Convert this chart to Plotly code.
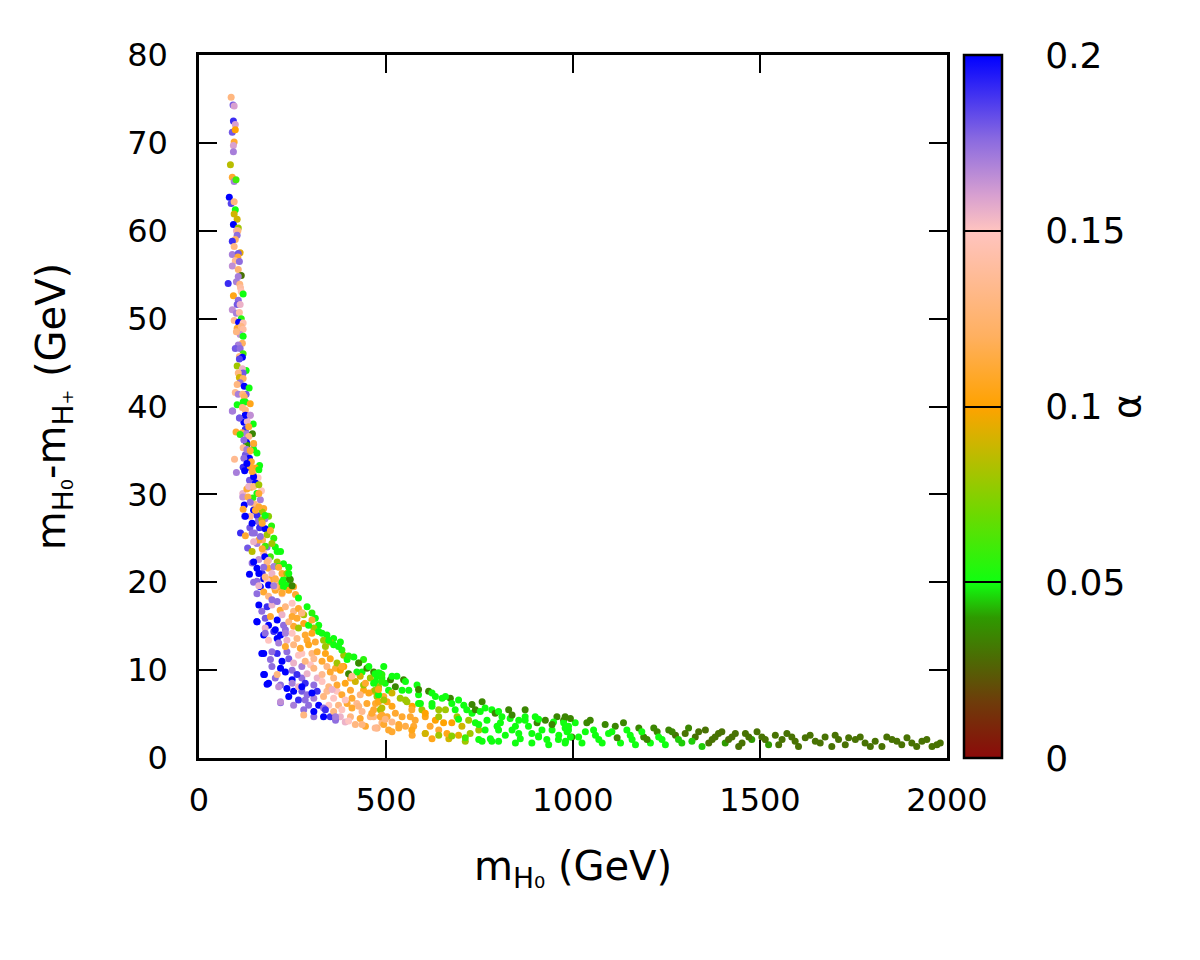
import plotly.graph_objects as go

# scan points: m_H0 (GeV), m_H0 - m_H+ (GeV), alpha
# steep part at low mass
spike_m = [86, 91, 94, 92, 97, 89, 97, 94, 92, 92, 84, 89, 94, 99, 81, 86, 94, 97, 94, 102,
           92, 105, 100, 104, 102, 97, 89, 94, 110, 89, 105, 104, 97, 108, 89, 105, 113, 105, 78, 100,
           109, 111, 113, 118, 92, 105, 102, 110, 89, 100, 108, 113, 94, 106, 118, 102, 113, 118, 110, 100,
           118, 116, 105, 97, 110, 118, 108, 116, 108, 102, 126, 116, 118, 105, 108, 118, 110, 102, 121, 134,
           126, 97, 105, 117, 121, 118, 124, 137, 102, 116, 89, 124, 124, 137, 108]
spike_dm = [75.2, 74.3, 74.2, 72.5, 72.1, 71.2, 71.5, 70.1, 69.7, 69.0, 67.5, 66.1, 65.6, 65.8, 63.8, 63.1, 63.3, 62.4, 61.9, 61.3,
            60.7, 60.3, 60.0, 60.0, 59.5, 59.0, 58.8, 58.2, 57.5, 57.3, 57.4, 57.0, 56.6, 56.5, 56.0, 55.6, 54.9, 54.8, 54.0, 54.2,
            53.9, 53.5, 53.1, 52.8, 52.6, 52.1, 51.6, 51.6, 51.0, 50.6, 50.7, 50.0, 49.8, 49.6, 49.5, 48.9, 49.1, 48.8, 48.2, 48.5,
            48.0, 47.2, 47.0, 46.6, 46.6, 46.0, 45.7, 45.6, 45.4, 44.6, 44.1, 44.3, 43.8, 43.8, 43.3, 43.2, 42.7, 42.5, 42.3, 42.1,
            41.4, 41.6, 41.4, 41.4, 41.1, 40.5, 40.5, 40.3, 40.2, 39.9, 39.5, 39.6, 39.0, 39.0, 38.7]
spike_a = [0.13, 0.18, 0.16, 0.19, 0.16, 0.18, 0.10, 0.11, 0.16, 0.17, 0.085, 0.11, 0.17, 0.06, 0.2, 0.185, 0.13, 0.05, 0.09, 0.09,
           0.2, 0.08, 0.155, 0.13, 0.175, 0.12, 0.19, 0.13, 0.095, 0.17, 0.18, 0.11, 0.135, 0.175, 0.165, 0.125, 0.03, 0.17, 0.19, 0.17,
           0.13, 0.14, 0.145, 0.05, 0.105, 0.175, 0.18, 0.155, 0.165, 0.17, 0.14, 0.055, 0.135, 0.2, 0.145, 0.11, 0.13, 0.14, 0.165, 0.13,
           0.05, 0.12, 0.17, 0.18, 0.175, 0.06, 0.13, 0.2, 0.185, 0.08, 0.05, 0.155, 0.18, 0.13, 0.09, 0.12, 0.175, 0.13, 0.2, 0.05,
           0.18, 0.135, 0.17, 0.13, 0.12, 0.05, 0.05, 0.105, 0.05, 0.13, 0.17, 0.13, 0.2, 0.165, 0.18]

# bend of the curve, 40 down to 20 GeV
knee_m = [90, 109, 124, 137, 120, 145, 129, 124, 99, 115, 127, 143, 110, 133, 127, 128, 146, 118, 146, 155,
          135, 124, 135, 120, 95, 140, 162, 118, 133, 151, 100, 122, 146, 158, 135, 151, 140, 167, 155, 117,
          128, 117, 144, 131, 164, 148, 121, 173, 118, 146, 169, 155, 122, 186, 137, 176, 158, 194, 136, 162,
          177, 111, 124, 148, 182, 200, 170, 155, 130, 204, 182, 218, 142, 173, 191, 160, 176, 209, 226, 155,
          186, 200, 135, 169, 195, 222, 235, 242, 146, 182, 204, 160, 186, 213, 226, 249,
          204, 222, 195, 160, 142, 186, 213, 240, 160, 177, 142, 124, 151, 168, 133, 160, 146, 137, 160, 128, 146,
          133, 120, 137, 128, 142, 146, 160, 137, 160, 177, 142, 169, 191, 164, 146, 195, 169, 209, 182, 213,
          173, 240, 146, 177, 222, 200]
knee_dm = [39.5, 38.7, 39.0, 39.0, 38.2, 38.0, 38.3, 37.4, 37.1, 37.0, 36.9, 36.9, 36.8, 36.6, 35.9, 35.6, 35.7, 35.3, 35.1, 34.7,
           34.9, 34.5, 34.1, 34.1, 34.0, 33.7, 33.3, 33.1, 33.1, 33.0, 32.5, 32.7, 32.2, 31.9, 31.6, 31.3, 30.8, 30.4, 30.1, 30.1,
           30.6, 29.7, 29.6, 29.7, 29.4, 28.9, 28.8, 28.4, 28.3, 28.2, 28.0, 27.6, 27.5, 27.5, 27.5, 27.2, 26.9, 26.4, 26.2, 26.2,
           26.1, 25.6, 25.3, 25.6, 25.4, 25.0, 24.8, 24.4, 23.9, 24.0, 24.0, 23.5, 23.5, 23.3, 22.9, 22.6, 22.9, 22.3, 22.1, 21.6,
           21.6, 21.8, 20.9, 21.0, 21.0, 21.0, 21.0, 20.4, 20.0, 20.2, 20.4, 19.6, 19.7, 19.5, 19.5, 19.6,
           19.5, 18.8, 18.0, 21.0, 22.2, 22.5, 21.8, 21.0, 24.8, 24.1, 25.6, 27.5, 28.2, 27.1, 30.9, 30.1, 32.0, 33.2, 32.8, 35.1, 35.8,
           37.7, 36.2, 35.0, 33.5, 32.6, 30.9, 31.1, 29.1, 28.6, 27.6, 26.7, 26.7, 25.9, 25.2, 24.6, 24.4, 23.8, 23.5, 22.3, 21.7,
           21.7, 21.7, 22.3, 20.6, 20.0, 19.6]
knee_a = [0.17, 0.175, 0.2, 0.16, 0.2, 0.05, 0.155, 0.19, 0.11, 0.115, 0.17, 0.035, 0.055, 0.13, 0.2, 0.04, 0.175, 0.135, 0.05, 0.05,
          0.11, 0.18, 0.2, 0.175, 0.135, 0.11, 0.05, 0.19, 0.2, 0.105, 0.17, 0.2, 0.13, 0.15, 0.18, 0.2, 0.11, 0.15, 0.05, 0.155,
          0.11, 0.165, 0.055, 0.115, 0.17, 0.13, 0.2, 0.11, 0.11, 0.2, 0.08, 0.19, 0.18, 0.075, 0.135, 0.17, 0.175, 0.055, 0.18, 0.19,
          0.2, 0.19, 0.11, 0.175, 0.08, 0.055, 0.12, 0.17, 0.18, 0.05, 0.175, 0.05, 0.085, 0.14, 0.06, 0.165, 0.2, 0.08, 0.05, 0.2,
          0.11, 0.17, 0.2, 0.19, 0.155, 0.11, 0.08, 0.04, 0.175, 0.15, 0.115, 0.155, 0.2, 0.11, 0.05, 0.035,
          0.13, 0.11, 0.175, 0.2, 0.175, 0.155, 0.05, 0.05, 0.11, 0.06, 0.175, 0.2, 0.11, 0.08, 0.155, 0.11, 0.2, 0.11, 0.05, 0.17, 0.11,
          0.11, 0.175, 0.11, 0.2, 0.11, 0.13, 0.08, 0.175, 0.11, 0.05, 0.2, 0.11, 0.11, 0.175, 0.155, 0.08, 0.11, 0.05, 0.13, 0.11,
          0.175, 0.05, 0.2, 0.13, 0.05, 0.17]

# dense band, 20 down to 3 GeV
band_m = [155, 173, 191, 209, 226, 244,
          155, 173, 186, 204, 222, 240, 258, 266,
          160, 182, 195, 209, 231, 249, 266, 289, 302,
          155, 177, 191, 209, 222, 240, 262, 275, 293, 311,
          177, 173, 200, 218, 231, 249, 266, 284, 302, 320, 342, 333,
          186, 173, 195, 213, 231, 253, 271, 293, 316, 338, 360, 382,
          191, 222, 240, 253, 266, 284, 307, 329, 351, 369, 396, 414, 440,
          175, 209, 231, 249, 262, 289, 307, 329, 351, 378, 400, 422, 449, 471, 489,
          182, 218, 235, 266, 284, 307, 329, 347, 369, 391, 418, 440, 467, 489,
          218, 240, 266, 289, 307, 333, 360, 382, 409, 431, 454, 480, 494,
          280, 307, 333, 360, 382, 409, 436, 467, 489,
          280, 333, 365, 391, 418, 445, 476, 494,
          382, 409, 445, 480, 516, 552, 587, 623, 391, 427, 462, 498, 534, 569, 605, 641, 676, 712, 748, 783,
          356, 338, 365, 400, 436, 471, 507, 302, 284, 275, 249, 213, 218, 186, 173, 168, 155, 177, 204, 231,
          249, 275, 302, 329, 347, 373, 400, 427, 454, 480, 516, 552, 587, 623, 659, 694, 730, 765, 801, 837,
          872, 908, 944, 979, 641, 694, 748, 801, 855, 908, 961, 605, 569]
band_dm = [20.1, 20.4, 20.3, 20.1, 20.3, 20.3,
           18.7, 18.9, 18.4, 19.1, 18.7, 19.1, 18.6, 18.2,
           17.4, 17.2, 17.4, 17.8, 17.2, 17.6, 17.0, 17.2, 16.5,
           15.5, 15.9, 16.1, 15.7, 16.3, 15.5, 15.9, 16.5, 15.1, 15.9,
           14.8, 14.0, 14.4, 14.0, 14.6, 14.2, 14.8, 14.0, 14.2, 14.4, 14.0, 13.4,
           13.4, 11.9, 12.1, 13.1, 12.7, 12.9, 12.5, 12.9, 12.1, 12.7, 12.9, 12.3,
           11.2, 11.0, 11.3, 10.8, 11.7, 11.0, 11.3, 11.0, 11.3, 10.8, 11.2, 11.5, 11.2,
           9.5, 9.5, 9.8, 10.0, 9.5, 9.6, 10.2, 9.5, 9.8, 10.0, 9.6, 9.8, 10.2, 9.6, 9.5,
           8.4, 8.3, 7.9, 8.1, 8.5, 8.3, 8.7, 8.1, 8.3, 8.5, 8.7, 8.3, 8.5, 8.7,
           6.3, 7.0, 6.6, 7.2, 6.8, 7.0, 6.8, 7.2, 6.8, 7.2, 7.4, 7.2, 6.6,
           5.5, 5.3, 5.7, 5.3, 5.5, 5.7, 5.3, 5.5, 5.7,
           4.9, 4.7, 4.3, 4.1, 3.8, 3.6, 3.4, 3.8,
           10.4, 9.3, 8.5, 7.8, 7.4, 6.6, 6.2, 5.9, 6.6, 5.9, 5.1, 4.4, 3.8, 3.2, 2.8, 2.6, 2.5, 2.3, 2.1, 1.9,
           7.8, 5.5, 4.7, 4.2, 3.8, 3.4, 3.2, 7.4, 6.6, 8.1, 8.5, 8.1, 6.4, 8.5, 9.5, 11.9, 15.5, 14.2, 14.6, 14.2,
           16.1, 16.5, 15.7, 14.2, 13.4, 12.7, 11.6, 10.8, 10.4, 9.7, 9.3, 8.7, 7.8, 7.4, 7.0, 6.6, 6.1, 5.7, 5.3, 4.9,
           4.7, 4.4, 3.8, 3.4, 4.7, 4.4, 3.8, 3.2, 2.8, 2.5, 2.1, 5.1, 5.5]
band_a = [0.175, 0.2, 0.11, 0.13, 0.05, 0.035,
          0.175, 0.11, 0.13, 0.11, 0.135, 0.105, 0.11, 0.05,
          0.2, 0.19, 0.155, 0.175, 0.13, 0.15, 0.11, 0.05, 0.055,
          0.2, 0.18, 0.11, 0.2, 0.155, 0.13, 0.11, 0.1, 0.05, 0.05,
          0.155, 0.2, 0.19, 0.2, 0.175, 0.15, 0.08, 0.11, 0.105, 0.05, 0.05, 0.08,
          0.15, 0.2, 0.175, 0.17, 0.11, 0.13, 0.11, 0.105, 0.11, 0.08, 0.05, 0.055,
          0.175, 0.2, 0.18, 0.155, 0.15, 0.13, 0.135, 0.11, 0.105, 0.08, 0.05, 0.05, 0.055,
          0.2, 0.13, 0.2, 0.175, 0.19, 0.155, 0.13, 0.135, 0.11, 0.1, 0.035, 0.05, 0.035, 0.05, 0.055,
          0.2, 0.175, 0.2, 0.155, 0.19, 0.175, 0.15, 0.13, 0.11, 0.105, 0.09, 0.08, 0.05, 0.055,
          0.175, 0.2, 0.19, 0.175, 0.17, 0.13, 0.15, 0.11, 0.11, 0.13, 0.105, 0.05, 0.08,
          0.175, 0.2, 0.175, 0.13, 0.15, 0.11, 0.135, 0.11, 0.085,
          0.13, 0.2, 0.175, 0.155, 0.13, 0.11, 0.13, 0.11,
          0.11, 0.135, 0.11, 0.105, 0.09, 0.08, 0.05, 0.05, 0.15, 0.13, 0.11, 0.13, 0.11, 0.105, 0.09, 0.08, 0.075, 0.06, 0.05, 0.05,
          0.155, 0.19, 0.17, 0.15, 0.13, 0.135, 0.11, 0.2, 0.175, 0.2, 0.17, 0.165, 0.165, 0.2, 0.2, 0.2, 0.2, 0.175, 0.2, 0.17,
          0.11, 0.13, 0.11, 0.05, 0.05, 0.05, 0.055, 0.035, 0.05, 0.05, 0.05, 0.05, 0.035, 0.05, 0.05, 0.05, 0.035, 0.05, 0.05, 0.035,
          0.05, 0.05, 0.035, 0.05, 0.08, 0.05, 0.05, 0.05, 0.05, 0.05, 0.05, 0.1, 0.11]

# extra points filling the band between 160 and 500 GeV
fill_m = [164, 200, 235, 253,
          168, 217, 253, 280, 320,
          186, 226, 253, 280, 307, 360,
          209, 235, 262, 289, 311, 351, 378,
          209, 235, 275, 302, 338, 387, 427,
          195, 218, 275, 298, 342, 365, 387, 436, 494,
          204, 249, 275, 316, 360, 405, 431, 458,
          253, 275, 316, 342, 369, 405, 440, 471,
          253, 293, 320, 347, 373, 396, 422, 449, 480,
          307, 351, 378, 405, 431, 458, 485]
fill_dm = [19.5, 19.5, 19.7, 19.5,
           16.7, 16.8, 16.7, 16.3, 15.1,
           15.1, 15.1, 15.0, 15.3, 14.8, 13.6,
           13.6, 13.4, 13.6, 13.4, 13.2, 13.2, 13.2,
           11.9, 12.1, 11.9, 11.9, 11.9, 11.7, 10.8,
           10.4, 10.2, 10.4, 10.6, 10.4, 10.2, 10.4, 9.8, 10.4,
           9.1, 8.9, 9.1, 9.1, 9.1, 9.1, 9.3, 9.1,
           7.6, 7.6, 7.6, 7.6, 7.6, 7.7, 7.7, 7.7,
           6.0, 6.0, 6.0, 6.0, 6.0, 6.2, 6.2, 6.2, 6.4,
           4.7, 4.7, 4.7, 4.7, 4.5, 4.7, 4.7]
fill_a = [0.2, 0.13, 0.05, 0.11,
          0.175, 0.11, 0.13, 0.08, 0.05,
          0.2, 0.175, 0.11, 0.105, 0.08, 0.05,
          0.2, 0.155, 0.13, 0.11, 0.11, 0.08, 0.05,
          0.19, 0.175, 0.15, 0.13, 0.105, 0.08, 0.05,
          0.175, 0.2, 0.17, 0.15, 0.13, 0.11, 0.1, 0.05, 0.05,
          0.175, 0.2, 0.175, 0.155, 0.13, 0.11, 0.09, 0.08,
          0.2, 0.18, 0.19, 0.135, 0.15, 0.11, 0.105, 0.08,
          0.17, 0.175, 0.2, 0.15, 0.13, 0.11, 0.135, 0.11, 0.105,
          0.175, 0.19, 0.155, 0.13, 0.11, 0.13, 0.11]

# middle of the band, 460 to 1000 GeV
mid_m = [467, 485, 472, 489, 467, 480, 494, 472, 485, 467, 489, 476, 503, 507, 516, 529, 525, 538, 547, 543,
         552, 561, 570, 578, 587, 596, 605, 614, 623, 632, 641, 650, 659, 672, 676, 685, 694, 708, 721, 730,
         739, 748, 757, 770, 783, 797, 810, 828, 837, 855, 872, 881, 899, 908, 926, 944, 957, 975, 988, 993,
         516, 570, 623, 668, 712, 757, 801, 846, 890, 935, 979,
         476, 498, 512, 476, 503, 489, 516, 525, 534, 543, 556, 565, 574, 583, 592, 605, 618, 632, 641, 654,
         663, 676, 690, 703, 716, 725, 739, 752, 765, 779, 792, 806, 819, 832, 846, 859, 872, 890, 904, 917,
         930, 948, 962, 979, 993]
mid_dm = [9.8, 9.6, 8.7, 9.1, 7.6, 8.1, 7.0, 6.2, 5.5, 4.7, 4.0, 3.4, 4.7, 7.7, 5.9, 9.3, 8.1, 6.8, 8.9, 4.7,
          3.6, 7.7, 5.9, 4.3, 7.2, 5.5, 2.8, 7.6, 6.2, 4.3, 3.2, 6.8, 5.5, 6.8, 4.0, 5.5, 2.6, 6.0, 4.3, 5.1,
          5.5, 3.2, 6.4, 4.3, 5.5, 3.6, 4.7, 5.5, 3.2, 4.3, 5.5, 3.6, 4.7, 2.4, 4.3, 3.2, 4.7, 4.0, 3.2, 4.5,
          3.0, 2.6, 2.2, 2.2, 1.9, 1.9, 1.9, 1.7, 1.7, 1.5, 1.7,
          9.3, 8.5, 8.9, 7.0, 6.4, 4.9, 4.1, 5.1, 3.4, 7.7, 6.4, 4.7, 3.6, 8.3, 6.2, 4.7, 3.6, 7.0, 5.5, 4.0,
          2.8, 6.2, 4.7, 3.6, 5.5, 2.8, 4.0, 5.3, 3.2, 2.2, 5.1, 4.0, 2.6, 4.5, 3.6, 2.2, 4.3, 2.8, 4.0, 3.2,
          2.1, 4.1, 2.6, 4.7, 2.4]
mid_a = [0.035, 0.035, 0.05, 0.05, 0.105, 0.08, 0.11, 0.11, 0.08, 0.13, 0.13, 0.145, 0.11, 0.05, 0.105, 0.05, 0.035, 0.08, 0.035, 0.11,
         0.115, 0.05, 0.1, 0.11, 0.05, 0.08, 0.11, 0.035, 0.05, 0.1, 0.11, 0.05, 0.08, 0.035, 0.1, 0.05, 0.095, 0.05, 0.08, 0.05,
         0.035, 0.08, 0.035, 0.05, 0.05, 0.05, 0.05, 0.035, 0.05, 0.05, 0.035, 0.05, 0.05, 0.05, 0.035, 0.05, 0.035, 0.05, 0.05, 0.035,
         0.11, 0.11, 0.105, 0.09, 0.08, 0.05, 0.05, 0.05, 0.05, 0.05, 0.05,
         0.05, 0.05, 0.035, 0.08, 0.105, 0.11, 0.13, 0.11, 0.11, 0.05, 0.08, 0.11, 0.11, 0.05, 0.05, 0.105, 0.11, 0.05, 0.08, 0.1,
         0.105, 0.05, 0.08, 0.09, 0.05, 0.08, 0.05, 0.05, 0.05, 0.05, 0.035, 0.05, 0.05, 0.05, 0.05, 0.05, 0.05, 0.05, 0.035, 0.05,
         0.05, 0.05, 0.05, 0.035, 0.05]

# tail, 1000 to 2000 GeV
tail_m = [975, 984, 980, 1006, 1015, 1024, 1046, 1055, 1069, 1086, 1095, 1113, 1127, 1144, 1158, 1176, 1189, 1207, 1225, 1238,
          1256, 1274, 1291, 1309, 1327, 1345, 1354, 1372, 1389, 1407, 1425, 1443, 1461, 1478, 1505, 1523, 1541, 1559, 1585, 1603,
          1621, 1648, 1674, 1692, 1710, 1737, 1755, 1781, 1808, 1826, 1853, 1879, 1906, 1933, 1960, 1982,
          988, 997, 1033, 1037, 1060, 1078, 1104, 1118, 1135, 1153, 1167, 1184, 1198, 1216, 1229, 1247, 1265, 1282, 1300, 1318,
          1336, 1363, 1380, 1398, 1416, 1434, 1452, 1470, 1492, 1514, 1550, 1572, 1594, 1634, 1661, 1701, 1728, 1768, 1795, 1839,
          1866, 1893, 1919, 1946, 1973]
tail_dm = [4.3, 3.0, 1.9, 4.0, 2.4, 1.7, 4.3, 3.2, 2.1, 3.8, 2.8, 3.6, 1.7, 3.2, 2.1, 3.4, 2.4, 1.7, 3.0, 2.1,
           3.2, 2.6, 1.7, 3.4, 2.4, 1.3, 3.2, 2.1, 2.8, 1.7, 2.4, 1.3, 2.8, 2.1, 2.4, 1.5, 2.6, 2.1, 2.4, 1.3,
           2.3, 1.9, 2.4, 1.3, 2.1, 2.3, 2.1, 1.7, 1.9, 1.3, 2.1, 1.5, 1.7, 1.9, 1.3, 1.7,
           3.6, 2.4, 3.0, 4.0, 2.6, 1.7, 3.0, 2.3, 4.0, 2.6, 1.5, 3.0, 2.1, 3.4, 2.4, 1.5, 3.0, 2.1, 2.8, 1.9,
           3.0, 1.7, 2.4, 3.0, 2.1, 2.8, 1.7, 2.4, 3.0, 2.1, 1.5, 2.8, 1.9, 2.6, 1.7, 2.6, 1.5, 2.4, 1.3, 2.4,
           1.9, 2.3, 1.3, 2.1, 1.5]
tail_a = [0.035, 0.05, 0.05, 0.05, 0.05, 0.05, 0.035, 0.05, 0.05, 0.035, 0.05, 0.035, 0.05, 0.05, 0.05, 0.035, 0.035, 0.05, 0.035, 0.05,
          0.035, 0.03, 0.045, 0.035, 0.03, 0.045, 0.03, 0.03, 0.03, 0.04, 0.03, 0.03, 0.03, 0.04, 0.03, 0.04, 0.03, 0.03, 0.03, 0.03,
          0.03, 0.03, 0.03, 0.03, 0.03, 0.03, 0.03, 0.03, 0.03, 0.03, 0.03, 0.03, 0.03, 0.03, 0.03, 0.03,
          0.05, 0.035, 0.05, 0.035, 0.05, 0.05, 0.05, 0.035, 0.035, 0.05, 0.05, 0.05, 0.035, 0.035, 0.05, 0.05, 0.035, 0.045, 0.03, 0.045,
          0.03, 0.03, 0.03, 0.03, 0.03, 0.03, 0.03, 0.03, 0.03, 0.03, 0.03, 0.03, 0.03, 0.03, 0.03, 0.03, 0.03, 0.03, 0.03, 0.03,
          0.03, 0.03, 0.03, 0.03, 0.03]

x_ticks = [0, 500, 1000, 1500, 2000]
y_ticks = [0, 10, 20, 30, 40, 50, 60, 70, 80]
cbar_ticks = [0, 0.05, 0.1, 0.15, 0.2]
cbar_labels = ['0', '0.05', '0.1', '0.15', '0.2']

m_h0 = tail_m + mid_m + fill_m + band_m + knee_m + spike_m
delta_m = tail_dm + mid_dm + fill_dm + band_dm + knee_dm + spike_dm
alpha = tail_a + mid_a + fill_a + band_a + knee_a + spike_a

# gnuplot-like palette of the original
palette = [
    [0.0, '#8c0a0a'], [0.08, '#6e3c0a'], [0.14, '#4d6a04'], [0.2, '#2e9a00'],
    [0.25, '#10ff10'], [0.35, '#70d800'], [0.45, '#d0b400'], [0.5, '#ffa200'],
    [0.6, '#ffb060'], [0.75, '#ffc4c0'], [0.8, '#d8a0d0'], [0.88, '#8a6ae0'],
    [1.0, '#0000ff'],
]

font = 'DejaVu Sans, sans-serif'
pad = '\u00a0\u00a0\u00a0'  # push colorbar labels away from the bar

fig = go.Figure(
    go.Scatter(
        x=m_h0, y=delta_m, mode='markers',
        marker=dict(
            size=7, color=alpha, cmin=0, cmax=0.2, colorscale=palette,
            colorbar=dict(
                x=1.023, xanchor='left', xpad=0, y=0, yanchor='bottom', len=1, ypad=0,
                thickness=38, outlinewidth=2.5, outlinecolor='black',
                tickvals=cbar_ticks, ticktext=[pad + t for t in cbar_labels],
                ticks='inside', ticklen=38, tickwidth=2, tickcolor='black',
                tickfont=dict(size=36, family=font, color='black'),
                title=dict(text='\u00a0α', side='right', font=dict(size=38, family=font, color='black')),
            ),
        ),
        showlegend=False,
    )
)

axis_style = dict(
    showline=True, linecolor='black', linewidth=2.5, mirror='ticks',
    ticks='inside', ticklen=18, tickwidth=2, tickcolor='black',
    showgrid=False, zeroline=False,
    tickfont=dict(size=32, family=font, color='black'),
)

fig.update_xaxes(range=[0, 2000], tickvals=x_ticks, ticklabelstandoff=12,
                 title=dict(text='m<sub>H₀</sub> (GeV)', standoff=34,
                            font=dict(size=40, family=font, color='black')),
                 **axis_style)
fig.update_yaxes(range=[0, 80], tickvals=y_ticks, ticklabelstandoff=22,
                 title=dict(text='m<sub>H₀</sub>-m<sub>H₊</sub> (GeV)', standoff=50,
                            font=dict(size=40, family=font, color='black')),
                 **axis_style)

fig.update_layout(
    width=1200, height=960,
    margin=dict(l=191, r=261, t=47, b=210),
    paper_bgcolor='white', plot_bgcolor='white',
    font=dict(family=font, color='black'),
)

fig.write_html('out.html')
